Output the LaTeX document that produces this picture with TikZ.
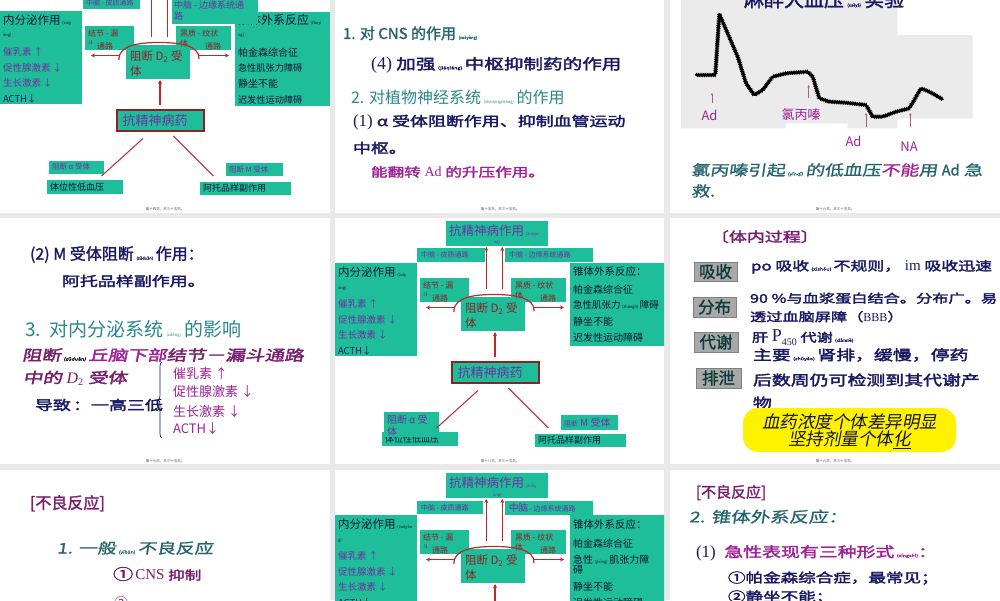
\documentclass[tikz,border=0pt]{standalone}
\usepackage{fontspec}
\setmainfont{Noto Sans CJK SC}
\newfontfamily\cjkb[FakeBold=1.5]{Noto Sans CJK SC}
\newfontfamily\cjkw[FakeBold=2.5,FakeStretch=1.35]{Noto Sans CJK SC}
\newfontfamily\cjkwi[FakeBold=2.5,FakeStretch=1.35,FakeSlant=0.2]{Noto Sans CJK SC}
\newfontfamily\calf[FakeSlant=0.15,FakeStretch=1.3,FakeBold=1]{Noto Sans CJK SC}
\newfontfamily\sli[FakeSlant=0.2]{Noto Sans CJK SC}
\newfontfamily\srf{Liberation Serif}
\usetikzlibrary{arrows.meta,decorations.pathreplacing,decorations.pathmorphing}
\definecolor{bgray}{RGB}{233,233,233}
\definecolor{tealbox}{RGB}{30,190,155}
\definecolor{dkred}{RGB}{140,35,35}
\definecolor{arrred}{RGB}{190,40,40}
\definecolor{purp}{RGB}{112,48,160}
\definecolor{navy}{RGB}{25,25,100}
\definecolor{mag}{RGB}{160,32,150}
\definecolor{tealtxt}{RGB}{35,100,110}
\definecolor{teal2}{RGB}{40,135,140}
\definecolor{ink}{RGB}{20,20,50}
\definecolor{chartbg}{RGB}{235,235,235}
\definecolor{pinkarr}{RGB}{190,90,120}
\definecolor{lbgray}{RGB}{168,168,168}
\definecolor{lbtxt}{RGB}{15,60,60}
\definecolor{dpurp}{RGB}{120,30,110}
\newcommand\fs[1]{\fontsize{#1}{#1}\selectfont}
\newcommand\py[1]{{\fs{4}#1}}
\newcounter{tn}
\tikzset{
  tb/.style={fill=tealbox,inner sep=0pt,outer sep=0pt},
  t/.style={inner sep=0pt,outer sep=0pt,anchor=west},
  ar/.style={draw=arrred,line width=1.1pt,-{Stealth[length=4pt,width=4pt]}},
  ln/.style={draw=arrred,line width=1pt},
  charr/.style={draw=pinkarr,line width=0.6pt,-{Stealth[length=2.5pt,width=2.5pt]}},
  footer/.style={font=\fs{3.5},text=black!70,anchor=center},
}
\newcommand\bx[6][tb]{\node[#1,minimum width={(#5)-(#3)},minimum height={(#6)-(#4)}] (#2) at ({((#3)+(#5))/2},{((#4)+(#6))/2}) {};}
\newcommand\tx[4][]{\stepcounter{tn}\node[t,#1] (tn\arabic{tn}) at (#2,#3) {#4};}
\newcommand\dgmcommon[1]{%
  \bx{#1ti}{111}{3}{213}{28}
  \bx{#1lb}{0}{45}{82}{138}
  \bx{#1jj}{85}{60}{134}{84}
  \bx{#1hz}{176}{60}{231}{84}
  \bx{#1cd}{126}{79}{190}{113}
  \bx[tb,draw=dkred,line width=1.5pt]{#1dr}{117}{144}{204}{165}
  \bx{#1tw}{47}{214}{123}{228}
  \bx{#1at}{200}{216}{291}{229}
  \tx[text=purp,font=\fs{9.5}]{3}{86}{催乳素 ↑}
  \tx[text=purp,font=\fs{9.5}]{3}{101.5}{促性腺激素 ↓}
  \tx[text=purp,font=\fs{9.5}]{3}{117}{生长激素 ↓}
  \tx[text=navy,font=\fs{9.5}]{3}{132.5}{ACTH↓}
  \tx[text=dkred,font=\fs{8}]{88}{67}{结节 - 漏}
  \tx[text=dkred,font=\fs{5}]{88}{77}{斗}
  \tx[text=dkred,font=\fs{8}]{97}{80}{通路}
  \tx[text=dkred,font=\fs{8}]{180}{67}{黑质 - 纹状}
  \tx[text=dkred,font=\fs{8}]{180}{77.5}{体}
  \tx[text=dkred,font=\fs{8}]{205}{80.5}{通路}
  \tx[text=dkred,font=\fs{11.5}]{130}{90.5}{阻断 D\textsubscript{2} 受}
  \tx[text=dkred,font=\fs{11.5}]{130}{105}{体}
  \tx[text=purp,font=\fs{13}]{122.5}{154.5}{抗精神病药}
  \tx[text=ink,font=\fs{9}]{50}{221}{体位性低血压}
  \tx[text=ink,font=\fs{9}]{203}{222.5}{阿托品样副作用}
  \coordinate (#1arcL) at (119,94);
  \coordinate (#1arcT) at (159,76.5);
  \coordinate (#1arcR) at (199,93);
  \draw[arrred,line width=1.2pt] (#1arcL) .. controls (118,79) and (140,76.5) .. (#1arcT) .. controls (178,76.5) and (200,79) .. (#1arcR);
  \coordinate (#1aLs) at (119,89.5); \coordinate (#1aLe) at (91,89.5);
  \coordinate (#1aRs) at (199,89.5); \coordinate (#1aRe) at (229,89.5);
  \coordinate (#1u1s) at (151.3,71); \coordinate (#1u1e) at (151.3,29);
  \coordinate (#1u2s) at (167.3,71); \coordinate (#1u2e) at (167.3,29);
  \coordinate (#1u3s) at (160,139); \coordinate (#1u3e) at (160,114);
  \draw[ar] (#1aLs) -- (#1aLe);
  \draw[ar] (#1aRs) -- (#1aRe);
  \draw[ar] (#1u1s) -- (#1u1e);
  \draw[ar] (#1u2s) -- (#1u2e);
  \draw[ar] (#1u3s) -- (#1u3e);
}
\newcommand\dgmlines[1]{%
  \coordinate (#1l1a) at (143,172.5); \coordinate (#1l1b) at (101.5,210);
  \coordinate (#1l2a) at (173.3,170); \coordinate (#1l2b) at (213.3,210);
  \draw[ln] (#1l1a) -- (#1l1b);
  \draw[ln] (#1l2a) -- (#1l2b);
}
\begin{document}
\begin{tikzpicture}[x=1pt,y=-1pt]
\useasboundingbox (0,0) rectangle (1000,600);
\fill[bgray] (0,0) rectangle (1000,600);
\fill[white] (0,0) rectangle (330,213);
\fill[white] (335,0) rectangle (664,213);
\fill[white] (670,0) rectangle (1000,213);
\fill[white] (0,218) rectangle (330,464);
\fill[white] (335,218) rectangle (664,464);
\fill[white] (670,218) rectangle (1000,464);
\fill[white] (0,470) rectangle (330,600);
\fill[white] (335,470) rectangle (664,600);
\fill[white] (670,470) rectangle (1000,600);

% ---------- row 1, col 1 : diagram ----------
\begin{scope}
\clip (0,0) rectangle (330,213);
\begin{scope}[shift={(0,-34)}]
\dgmcommon{A}
\tx[text=purp,font=\fs{12.5}]{114}{12.5}{抗精神病作用\,\py{(zuòyò}}
\bx{Arb}{235}{46}{330}{140}
\tx[text=ink,font=\fs{12}]{237}{54}{锥体外系反应\,\py{(fǎnyì}}
\tx[text=ink,font=\fs{4}]{238}{69}{ng)：}
\tx[text=ink,font=\fs{10}]{238}{87}{帕金森综合征}
\tx[text=ink,font=\fs{9.2}]{238}{102}{急性肌张力障碍}
\tx[text=ink,font=\fs{10}]{238}{118}{静坐不能}
\tx[text=ink,font=\fs{9.2}]{238}{134}{迟发性运动障碍}
\bx{Apz}{83}{30}{140}{42.5}
\tx[text=purp,font=\fs{7}]{86}{37}{中脑 - 皮质通路}
\bx{Aby}{172}{30}{258}{57.5}
\tx[text=purp,font=\fs{9}]{174}{39}{中脑 - 边缘系统通}
\tx[text=purp,font=\fs{9}]{174}{50.5}{路}
\tx[text=ink,font=\fs{11.5}]{3}{54}{内分泌作用\,\py{(zuìy}}
\tx[text=ink,font=\fs{4}]{3}{69}{òng)：}
\bx{Aal}{49}{194.5}{104}{207.5}
\tx[text=purp,font=\fs{7.5}]{52}{201}{阻断 α 受体}
\bx{Am}{226}{197}{283}{210}
\tx[text=purp,font=\fs{7.5}]{229}{203.5}{阻断 M 受体}
\dgmlines{A}
\end{scope}
\end{scope}
\tx[footer]{165}{209}{第十四页，共三十五页。}

% ---------- row 1, col 2 ----------
\tx[text=tealtxt,font=\fs{15}\cjkb]{343}{33.3}{1. 对 CNS 的作用\,\py{(zuòyòng)}}
\tx[text=navy,font=\fs{14.5}\cjkw]{371}{65}{{\srf\fs{18}(4)}\ 加强\,\py{(jiāqiáng)}\,中枢抑制药的作用}
\tx[text=teal2,font=\fs{16}]{351}{97.5}{2. 对植物神经系统\,\py{(shénjīngxìtǒng)}\,的作用}
\tx[text=navy,font=\fs{13.3}\cjkw]{353}{122}{{\srf\fs{17}(1)}\ α\ 受体阻断作用、抑制血管运动}
\tx[text=navy,font=\fs{13.3}\cjkw]{353}{148}{中枢。}
\tx[text=mag,font=\fs{12.3}\cjkw]{371}{172}{能翻转 {\srf\fs{14}Ad} 的升压作用。}
\tx[footer]{500}{209}{第十五页，共三十五页。}

% ---------- row 1, col 3 : chart ----------
\fill[chartbg] (681,0) -- (897.7,0) -- (897.7,35) -- (972.7,35) -- (972.7,118.3) -- (897.7,118.3) -- (897.7,128.3) -- (847.7,128.3) -- (847.7,123.3) -- (786,123.3) -- (786,128.3) -- (681,128.3) -- cycle;
\tx[text=navy,font=\fs{20}\cjkb]{744}{-1}{麻醉犬血压\,\py{(xuèyā)}\,实验}
\draw[black,line width=2.2pt,line join=round,line cap=round]
  (696,75) -- (715.3,75) -- (719.3,14) -- (737.7,56.7) -- (746,83.3) -- (754.3,95) -- (762.7,90) -- (772.7,76.7) -- (786,73.3) -- (807.7,71.7) -- (812.7,76.7) -- (819.3,98.3) -- (829.3,101.7) -- (846,102.7) -- (866,105) -- (872.7,116.7) -- (882.7,116.7) -- (896,111.7) -- (909.3,108.3) -- (921,88.3) -- (929.3,91.7) -- (942.7,99.3);
\draw[black,line width=0.9pt,line join=round,decorate,decoration={zigzag,segment length=1.8pt,amplitude=1.8pt}]
  (696,75) -- (715.3,75) -- (719.3,14) -- (737.7,56.7) -- (746,83.3) -- (754.3,95) -- (762.7,90) -- (772.7,76.7) -- (786,73.3) -- (807.7,71.7) -- (812.7,76.7) -- (819.3,98.3) -- (829.3,101.7) -- (846,102.7) -- (866,105) -- (872.7,116.7) -- (882.7,116.7) -- (896,111.7) -- (909.3,108.3) -- (921,88.3) -- (929.3,91.7) -- (942.7,99.3);
\draw[charr] (712,103) -- (712,93);
\draw[charr] (808.7,98) -- (808.7,85);
\draw[charr] (866,127) -- (866,113);
\draw[charr] (910.3,127) -- (910.3,113);
\tx[text=mag,font=\fs{13},anchor=center]{709.5}{115}{Ad}
\tx[text=mag,font=\fs{13},anchor=center]{801}{115}{氯丙嗪}
\tx[text=mag,font=\fs{13},anchor=center]{853.5}{141.7}{Ad}
\tx[text=mag,font=\fs{13},anchor=center]{909}{146.7}{NA}
\tx[text=tealtxt,font=\fs{14.5}\calf]{691}{170}{氯丙嗪引起\,\py{(yǐnqǐ)}\,的低血压{\color{mag}不能}用 {\cjkb Ad} 急}
\tx[text=tealtxt,font=\fs{14.5}\calf]{691}{191}{救.}
\tx[footer]{835}{209}{第十六页，共三十五页。}

% ---------- row 2, col 1 ----------
\tx[text=navy,font=\fs{16}\cjkb]{30}{254.5}{(2) M 受体阻断\,\py{(zǔduàn)}\,作用：}
\tx[text=navy,font=\fs{13.3}\cjkw]{62}{281}{阿托品样副作用。}
\tx[text=teal2,font=\fs{19}]{25}{329}{3.\ \ 对内分泌系统\,\py{(xìtǒng)}\,的影响}
\tx[font=\fs{14.5}\cjkwi]{22}{355}{{\color{dpurp}阻断}\,\py{(zǔduàn)}\,{\color{mag}丘脑下部}{\color{dpurp}结节－漏斗通路}}
\tx[text=dpurp,font=\fs{14.5}\cjkwi]{23}{378}{中的 {\srf\itshape\fs{16}D}\textsubscript{\srf 2} 受体}
\tx[text=navy,font=\fs{13.3}\cjkw]{35}{405}{导致\,：一高三低}
\coordinate (brA) at (162,438);
\coordinate (brB) at (162,362);
\draw[navy,line width=0.7pt,decorate,decoration={brace,amplitude=4pt}] (brA) -- (brB);
\tx[text=mag,font=\fs{13}]{173}{373.3}{催乳素 ↑}
\tx[text=mag,font=\fs{13}]{173}{391.7}{促性腺激素 ↓}
\tx[text=mag,font=\fs{13}]{173}{411.7}{生长激素 ↓}
\tx[text=mag,font=\fs{13}]{173}{428.3}{ACTH↓}
\tx[footer]{165}{461}{第十七页，共三十五页。}

% ---------- row 2, col 2 : diagram ----------
\begin{scope}
\clip (335,218) rectangle (664,464);
\begin{scope}[shift={(335,218)}]
\dgmcommon{B}
\tx[text=purp,font=\fs{12.5}]{114}{12.5}{抗精神病作用\,\py{(zuòyò}}
\tx[text=purp,font=\fs{4}]{159}{24}{ng)}
\bx{Brb}{235}{45}{330}{128}
\tx[text=ink,font=\fs{10.5}]{238}{53}{锥体外系反应：}
\tx[text=ink,font=\fs{10}]{238}{71.5}{帕金森综合征}
\tx[text=ink,font=\fs{9.5}]{238}{87}{急性肌张力\,\py{(zhānglì)}\,障碍}
\tx[text=ink,font=\fs{10}]{238}{104}{静坐不能}
\tx[text=ink,font=\fs{10}]{238}{120}{迟发性运动障碍}
\bx{Bpz}{82}{30}{150}{44}
\tx[text=purp,font=\fs{7}]{86}{37}{中脑 - 皮质通路}
\bx{Bby}{170}{30}{258}{44}
\tx[text=purp,font=\fs{7}]{174}{37}{中脑 - 边缘系统通路}
\tx[text=ink,font=\fs{11.5}]{3}{54}{内分泌作用\,\py{(zuìy}}
\tx[text=ink,font=\fs{4}]{3}{70}{òng)：}
\bx{Bal}{49}{194}{104}{219}
\tx[text=purp,font=\fs{10}]{52}{202}{阻断 α 受}
\tx[text=purp,font=\fs{10}]{52}{213.5}{体}
\bx{Bm}{226}{197}{283}{212}
\tx[text=purp,font=\fs{10}]{229}{204.5}{{\fs{7}阻断} M 受体}
\dgmlines{B}
\end{scope}
\end{scope}
\tx[footer]{500}{461}{第十八页，共三十五页。}

% ---------- row 2, col 3 ----------
\tx[text=dpurp,font=\fs{13.3}\cjkw]{711}{236.7}{〔体内过程〕}
\bx[fill=lbgray,draw=gray,line width=0.3pt,inner sep=0pt]{lb1}{694}{262}{737}{281}
\bx[fill=lbgray,draw=gray,line width=0.3pt,inner sep=0pt]{lb2}{693}{297}{736}{317}
\bx[fill=lbgray,draw=gray,line width=0.3pt,inner sep=0pt]{lb3}{694}{332}{738}{352}
\bx[fill=lbgray,draw=gray,line width=0.3pt,inner sep=0pt]{lb4}{696}{368}{741}{388}
\tx[text=lbtxt,font=\fs{16.5}\cjkb,anchor=center]{715.5}{271.5}{吸收}
\tx[text=lbtxt,font=\fs{16.5}\cjkb,anchor=center]{714.5}{307}{分布}
\tx[text=lbtxt,font=\fs{16.5}\cjkb,anchor=center]{716}{342}{代谢}
\tx[text=lbtxt,font=\fs{16.5}\cjkb,anchor=center]{718.5}{378}{排泄}
\tx[text=navy,font=\fs{12.5}\cjkw]{751}{266.7}{po 吸收\,\py{(xīshōu)}\,不规则， {\srf\fs{15}im} 吸收迅速}
\tx[text=navy,font=\fs{12}\cjkw]{750}{298.3}{90 \%与血浆蛋白结合。分布广。易}
\tx[text=navy,font=\fs{12}\cjkw]{750}{316.7}{透过血脑屏障（{\srf BBB}）}
\tx[text=navy,font=\fs{12}\cjkw]{752}{338}{肝 {\srf\fs{18}P}\raisebox{-4pt}{\srf\fs{10}450} 代谢\,\py{(dàixiè)}}
\tx[text=navy,font=\fs{14}\cjkw]{753}{355}{主要\,\py{(zhǔyào)}\,肾排，缓慢，停药}
\tx[text=navy,font=\fs{14}\cjkw]{753}{380}{后数周仍可检测到其代谢产}
\tx[text=navy,font=\fs{14}\cjkw]{753}{403}{物}
\node[fill=yellow,rounded corners=15pt,minimum width=213,minimum height=44,inner sep=0pt] (yb) at (849.5,430) {};
\tx[text=ink,font=\fs{17.5}\sli,anchor=center]{849.5}{421.7}{血药浓度个体差异明显}
\tx[text=ink,font=\fs{17.5}\sli,anchor=center]{849.5}{440}{坚持剂量个体\underline{化}}
\tx[footer]{835}{461}{第十九页，共三十五页。}

% ---------- row 3, col 1 ----------
\tx[text=dpurp,font=\fs{16}\cjkb]{30}{503.3}{[不良反应]}
\tx[text=tealtxt,font=\fs{14.5}\calf]{57}{548}{1. 一般\,\py{(yībān)}\,不良反应}
\tx[text=dpurp,font=\fs{12.3}\cjkw]{113}{574}{{\fs{15}①}\,{\srf\fs{15}CNS} 抑制}
\tx[text=dpurp,font=\fs{14}]{114}{603}{②}

% ---------- row 3, col 2 : diagram ----------
\begin{scope}
\clip (335,470) rectangle (664,600);
\begin{scope}[shift={(335,470)}]
\dgmcommon{C}
\tx[text=purp,font=\fs{12.5}]{114}{13}{抗精神病作用\,\py{(zuòy}}
\tx[text=purp,font=\fs{4}]{158}{25}{òng)}
\bx{Crb}{235}{45}{330}{140}
\tx[text=ink,font=\fs{10.5}]{238}{54}{锥体外系反应：}
\tx[text=ink,font=\fs{10}]{238}{73.3}{帕金森综合征}
\tx[text=ink,font=\fs{10}]{238}{90}{急性\,\py{(jíxìng)}\,肌张力障}
\tx[text=ink,font=\fs{10}]{238}{100}{碍}
\tx[text=ink,font=\fs{10}]{238}{116.7}{静坐不能}
\tx[text=ink,font=\fs{10}]{238}{133}{迟发性运动障碍}
\bx{Cpz}{82}{31}{148}{44}
\tx[text=purp,font=\fs{7}]{86}{37.5}{中脑 - 皮质通路}
\bx{Cby}{170}{31}{258}{45}
\tx[text=purp,font=\fs{7}]{174}{38}{{\fs{9.5}中脑} - 边缘系统通路}
\tx[text=ink,font=\fs{11.5}]{3}{54}{内分泌作用\,\py{(zuòyòn}}
\tx[text=ink,font=\fs{4}]{3}{70}{g)：}
\dgmlines{C}
\end{scope}
\end{scope}

% ---------- row 3, col 3 ----------
\tx[text=dpurp,font=\fs{15}\cjkb]{696}{492.5}{[不良反应]}
\tx[text=tealtxt,font=\fs{15}\calf]{689}{516.7}{2. 锥体外系反应：}
\tx[text=mag,font=\fs{14}\cjkw]{696}{553}{{\color{navy}\srf\fs{17}(1)}\ \ 急性表现有三种形式\,\py{(xíngshì)}：}
\tx[text=navy,font=\fs{13}\cjkw]{728}{578}{①帕金森综合症，最常见；}
\tx[text=navy,font=\fs{13}\cjkw]{728}{597}{②静坐不能；}
\end{tikzpicture}
\end{document}
